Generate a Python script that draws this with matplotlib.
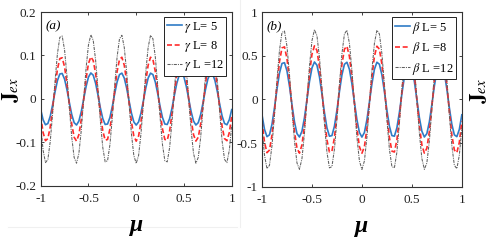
import matplotlib
matplotlib.use('Agg')
import matplotlib.pyplot as plt
import numpy as np
from matplotlib.lines import Line2D

plt.rcParams['font.family'] = 'Liberation Serif'
plt.rcParams['mathtext.fontset'] = 'stix'
plt.rcParams['axes.unicode_minus'] = False

# mu grid, step 0.025
mu = np.linspace(-1, 1, 81)

# normalised oscillation (same shape in both panels)
shape = [-0.408, -0.796, -0.989, -0.940, -0.660, -0.219, 0.275, 0.702, 0.958, 0.978,
         0.760, 0.355, -0.137, -0.595, -0.907, -0.998, -0.844, -0.483, -0.004, 0.476,
         0.839, 0.997, 0.911, 0.602, 0.146, -0.347, -0.754, -0.977, -0.960, -0.709,
         -0.284, 0.211, 0.654, 0.936, 0.990, 0.801, 0.416, -0.071, -0.540, -0.878,
         -1.000,
         -0.878, -0.540, -0.071, 0.416, 0.801, 0.990, 0.936, 0.654, 0.211, -0.284,
         -0.709, -0.960, -0.977, -0.754, -0.347, 0.146, 0.602, 0.911, 0.997, 0.839,
         0.476, -0.004, -0.483, -0.844, -0.998, -0.907, -0.595, -0.137, 0.355, 0.760,
         0.978, 0.958, 0.702, 0.275, -0.219, -0.660, -0.940, -0.989, -0.796, -0.408]

# amplitudes of each curve
amp_a = [0.060, 0.097, 0.148]
amp_b = [0.43, 0.615, 0.80]

labels_a = [r'$\gamma$ L= 5', r'$\gamma$ L= 8', r'$\gamma$ L =12']
labels_b = [r'$\beta$ L= 5', r'$\beta$ L =8', r'$\beta$ L =12']

xticks = [-1, -0.5, 0, 0.5, 1]
xticklabels = ['-1', '-0.5', '0', '0.5', '1']
yticks_a = [-0.2, -0.1, 0, 0.1, 0.2]
yticklabels_a = ['-0.2', '-0.1', '0', '0.1', '0.2']
yticks_b = [-1, -0.5, 0, 0.5, 1]
yticklabels_b = ['-1', '-0.5', '0', '0.5', '1']

styles = [dict(color='#2f7cc6', ls='-', lw=1.2),
          dict(color='#ff2b2b', ls=(0, (3, 1.6)), lw=1.2),
          dict(color='#606060', ls=(0, (3, 1, 1, 1)), lw=0.75)]

fig = plt.figure(figsize=(4.91, 2.45), dpi=100)
ax1 = fig.add_axes([0.0829, 0.241, 0.389, 0.710])
ax2 = fig.add_axes([0.5336, 0.237, 0.407, 0.714])

panels = [(ax1, amp_a, labels_a, yticks_a, yticklabels_a, '(a)'),
          (ax2, amp_b, labels_b, yticks_b, yticklabels_b, '(b)')]

for ax, amps, labels, yt, ytl, tag in panels:
    for a, lab, st in zip(amps, labels, styles):
        ax.plot(mu, a * np.array(shape), label=lab, **st)
    ax.set_xlim(-1, 1)
    ax.set_ylim(yt[0], yt[-1])
    ax.set_xticks(xticks)
    ax.set_xticklabels(xticklabels)
    ax.set_yticks(yt)
    ax.set_yticklabels(ytl)
    ax.tick_params(direction='in', top=True, right=True, labelsize=9.5,
                   length=2.5, width=0.6, colors='#222222')
    ax.tick_params(axis='x', pad=5)
    ax.tick_params(axis='y', pad=3)
    for s in ax.spines.values():
        s.set_linewidth(0.8)
        s.set_color('#333333')
    ax.set_xlabel('μ', fontsize=17, style='italic', fontweight='bold', labelpad=7)
    ax.set_ylabel(r'$\mathbf{J}_{ex}$', fontsize=15)
    ax.text(0.025, 0.95, tag, transform=ax.transAxes, fontsize=9.5, style='italic',
            va='top', ha='left')
    leg = ax.legend(loc='upper right', bbox_to_anchor=(0.97, 0.97), fontsize=9,
                    fancybox=False, edgecolor='#222222', framealpha=1,
                    handlelength=1.2, handletextpad=0.15, borderpad=0.2,
                    labelspacing=0.35, borderaxespad=0)
    leg.get_frame().set_linewidth(0.7)

ax1.yaxis.set_label_coords(-0.105, 0.55)
ax2.yaxis.set_label_position('right')
ax2.yaxis.set_label_coords(1.035, 0.55)

# faint borders of the original sub-figures, kept behind the labels
fig.add_artist(Line2D([8 / 491, 237 / 491], [1 - 227 / 245] * 2, color='#f0f0f0',
                      lw=0.8, zorder=-5))
fig.add_artist(Line2D([240 / 491] * 2, [1 - 227 / 245, 1.0], color='#f0f0f0',
                      lw=0.8, zorder=-5))

fig.savefig('out.png', dpi=100)
